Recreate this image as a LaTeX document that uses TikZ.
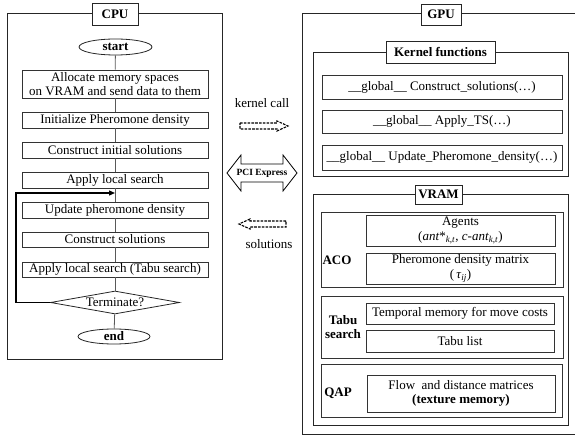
\documentclass[tikz,border=0pt]{standalone}
\usepackage{fontspec}
\setmainfont{Liberation Serif}
\usetikzlibrary{shapes.geometric,arrows.meta}
\begin{document}
\begin{tikzpicture}[x=1pt,y=-1pt,
  font=\fontsize{13}{14.5}\selectfont,
  frame/.style={draw=black!85, line width=0.9pt},
  tag/.style={draw=black!85, line width=0.9pt, fill=white, inner sep=0pt, font=\fontsize{13}{14.5}\selectfont\bfseries},
  proc/.style={draw=black!80, line width=0.8pt, inner sep=0pt, align=center, minimum width=186},
  kbox/.style={draw=black!80, line width=0.8pt, inner sep=0pt, align=center},
  term/.style={draw=black!85, line width=0.8pt, ellipse, inner sep=0pt, font=\fontsize{13}{14.5}\selectfont\bfseries},
  flow/.style={draw=black!65, line width=0.8pt},
  lbl/.style={inner sep=0pt, align=center, font=\fontsize{13}{14.5}\selectfont\bfseries},
  blockarrow/.style={draw=black, line width=0.8pt, fill=white},
  dasharrow/.style={draw=black, line width=1.1pt, fill=white, dash pattern=on 2.6pt off 1.2pt}
]
\useasboundingbox (0,0) rectangle (575,438);

% ---------- CPU ----------
\draw[frame] (7,13) rectangle (222,359);
\node[tag, minimum width=46, minimum height=22] (cpu) at (115,14) {CPU};

\node[term, minimum width=73, minimum height=16] (start) at (115.5,47) {start};
\node[proc, minimum height=28] (b1) at (115,84) {Allocate memory spaces\\on VRAM and send data to them};
\node[proc, minimum height=16] (b2) at (115,120) {Initialize Pheromone density};
\node[proc, minimum height=16] (b3) at (115,150) {Construct initial solutions};
\node[proc, minimum height=16] (b4) at (115,180) {Apply local search};
\node[proc, minimum height=16] (b5) at (115,210) {Update pheromone density};
\node[proc, minimum height=15] (b6) at (115,239.5) {Construct solutions};
\node[proc, minimum height=15] (b7) at (115,269.5) {Apply local search (Tabu search)};
\node[draw=black!85, line width=0.8pt, diamond, shape aspect=5.6, inner sep=0pt,
      minimum width=129, minimum height=23] (dia) at (115,302.5) {Terminate?};
\node[term, minimum width=72, minimum height=15] (end) at (114,336.5) {end};

\draw[flow] (start) -- (b1);
\draw[flow] (b1) -- (b2);
\draw[flow] (b2) -- (b3);
\draw[flow] (b3) -- (b4);
\draw[flow] (b4) -- (b5);
\draw[flow] (b5) -- (b6);
\draw[flow] (b6) -- (b7);
\draw[flow] (b7) -- (dia);
\draw[flow] (dia) -- (end);

\coordinate (loopin) at (115,193);
\draw[line width=1.3pt, -{Triangle[length=6pt,width=5pt]}] (dia.west) -- (16,302.5) -- (16,193) -- (loopin);

% ---------- middle ----------
\node[inner sep=0pt] (kc) at (262,103.5) {kernel call};
\draw[dasharrow] (240,123) -- (277,123) -- (277,121) -- (288,126) -- (277,131) -- (277,129) -- (240,129) -- cycle;

\draw[blockarrow] (227,173) -- (241,155) -- (241,164) -- (283,164) -- (283,155) -- (297,173) -- (283,191) -- (283,182) -- (241,182) -- (241,191) -- cycle;
\node[inner sep=0pt, font=\fontsize{9.5}{10}\selectfont\bfseries] (pci) at (262,173) {PCI Express};

\draw[dasharrow] (286,221) -- (250,221) -- (250,219) -- (239,224) -- (250,229) -- (250,227) -- (286,227) -- cycle;
\node[inner sep=0pt] (sol) at (269,244) {solutions};

% ---------- GPU ----------
\draw[frame] (580,13) -- (302,13) -- (302,434) -- (580,434);
\node[tag, minimum width=40, minimum height=21] (gpu) at (441,14.5) {GPU};

\draw[frame] (313,52) rectangle (568,176);
\node[tag, minimum width=109, minimum height=22] (kf) at (440.5,52) {Kernel functions};
\node[kbox, minimum width=240, minimum height=24] (k1) at (442,87) {\_\_global\_\_ Construct\_solutions(…)};
\node[kbox, minimum width=240, minimum height=23] (k2) at (442,121.5) {\_\_global\_\_ Apply\_TS(…)};
\node[kbox, minimum width=240, minimum height=25] (k3) at (442,157.5) {\_\_global\_\_ Update\_Pheromone\_density(…)};

\draw[frame] (313,194) rectangle (568,425);
\node[tag, minimum width=47, minimum height=19] (vram) at (438.5,194.5) {VRAM};

\node[kbox, minimum width=242, minimum height=75] (aco) at (442,249.5) {};
\node[kbox, minimum width=189, minimum height=31] (agents) at (460.5,230.5) {Agents\\(\textit{ant}*\textsubscript{\textit{k,t}}, \textit{c-ant}\textsubscript{\textit{k,t}})};
\node[kbox, minimum width=189, minimum height=31] (pher) at (460.5,268.5) {Pheromone density matrix\\(\,\textit{τ}\textsubscript{\textit{ij}})};
\node[lbl] (acol) at (337,260) {ACO};

\node[kbox, minimum width=242, minimum height=62] (tabu) at (442,327) {};
\node[kbox, minimum width=188, minimum height=21] (temp) at (460,313.5) {Temporal memory for move costs};
\node[kbox, minimum width=188, minimum height=22] (tl) at (460,341) {Tabu list};
\node[lbl] (tabul) at (343,327) {Tabu\\search};

\node[kbox, minimum width=241, minimum height=53] (qap) at (441.5,390.5) {};
\node[kbox, minimum width=188, minimum height=37] (fm) at (461,393.5) {Flow~ and distance matrices\\\textbf{(texture memory)}};
\node[lbl] (qapl) at (338,393) {QAP};
\end{tikzpicture}
\end{document}
